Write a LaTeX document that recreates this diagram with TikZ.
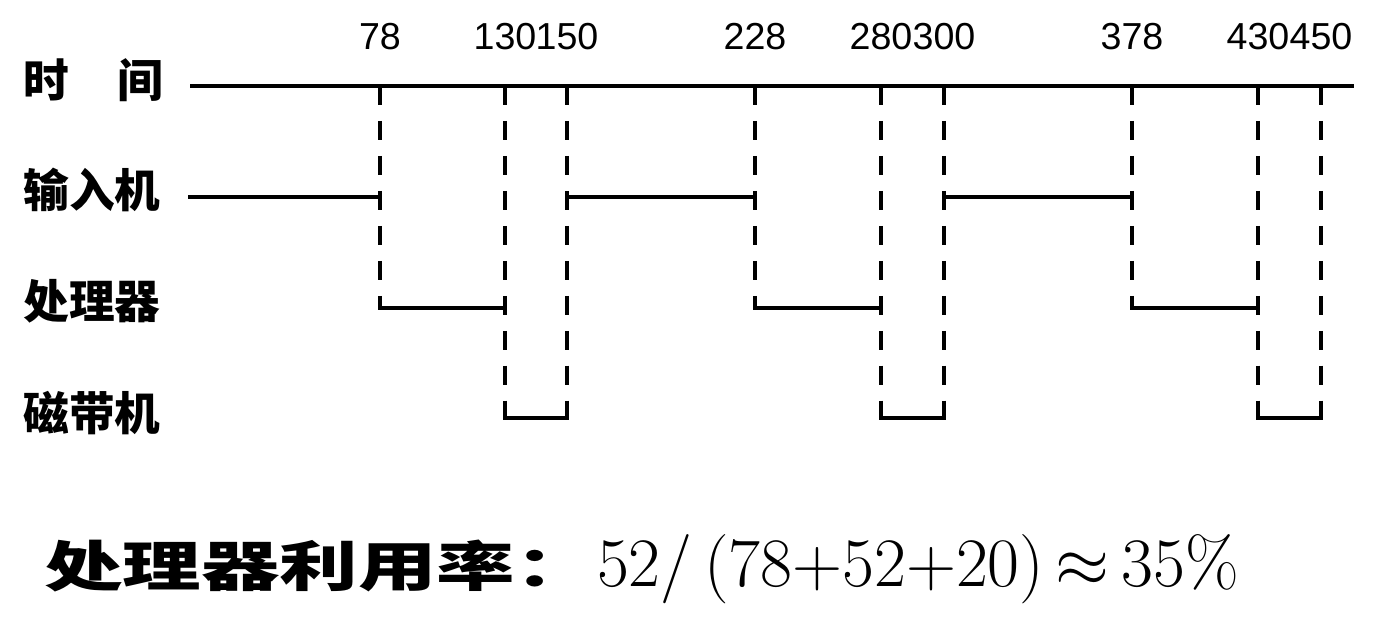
\RequirePackage{fix-cm}
\documentclass[tikz,border=0pt]{standalone}
\usepackage{fontspec}
\newfontfamily\cjk{Noto Sans CJK SC}
\newfontfamily\numfont{Liberation Sans}

\tikzset{
    rowlabel/.style={anchor=west, inner sep=0pt, font=\cjk\bfseries\fontsize{26pt}{26pt}\selectfont},
    ticklabel/.style={inner sep=0pt, font=\numfont\fontsize{21.4pt}{21.4pt}\selectfont},
    axisline/.style={line width=2.3pt},
    busyline/.style={line width=2.1pt, line cap=rect},
    dashline/.style={line width=2.7pt, dash pattern=on 10.8pt off 9.1pt}
}

\begin{document}
\begin{tikzpicture}[x=0.02cm, y=-0.02cm]

    % Fix the page size
    \useasboundingbox[fill=white] (0,0) rectangle (1389,633);

    % Define the rows
    \coordinate (top)   at (190, 37);    % Height of the tick labels
    \coordinate (time)  at (190, 86);    % Time axis
    \coordinate (input) at (190, 197);   % Input machine row
    \coordinate (cpu)   at (190, 308);   % Processor row
    \coordinate (tape)  at (190, 418);   % Tape machine row
    \coordinate (axisend) at (1354, 86); % Right end of the axis

    % Define the ticks on the time axis
    \foreach \t/\x in {78/380, 130/505, 150/567, 228/755, 280/881,
                       300/944, 378/1132, 430/1258, 450/1321}
        \coordinate (t\t) at (\x, 86);

    % Row labels
    \node[rowlabel] (ltime)  at (23, 80)  {时\hspace{1.07em}间};
    \node[rowlabel] (linput) at (23, 190) {输入机};
    \node[rowlabel] (lcpu)   at (23, 301) {处理器};
    \node[rowlabel] (ltape)  at (23, 413) {磁带机};

    % Tick labels
    \foreach \t in {78, 130, 150, 228, 280, 300, 378, 430, 450}
        \node[ticklabel] (n\t) at (t\t |- top) {\t};

    % Time axis
    \draw[axisline] (time) -- (axisend);

    % Dashed lines down to the processor row
    \foreach \t in {78, 228, 378}
        \draw[dashline] (t\t) -- (t\t |- cpu);

    % Dashed lines down to the tape row
    \foreach \t in {130, 150, 280, 300, 430, 450}
        \draw[dashline] (t\t) -- (t\t |- tape);

    % Input machine busy
    \draw[busyline] (input) -- (input -| t78);
    \draw[busyline] (input -| t150) -- (input -| t228);
    \draw[busyline] (input -| t300) -- (input -| t378);

    % Processor busy
    \draw[busyline] (cpu -| t78) -- (cpu -| t130);
    \draw[busyline] (cpu -| t228) -- (cpu -| t280);
    \draw[busyline] (cpu -| t378) -- (cpu -| t430);

    % Tape machine busy
    \draw[busyline] (tape -| t130) -- (tape -| t150);
    \draw[busyline] (tape -| t280) -- (tape -| t300);
    \draw[busyline] (tape -| t430) -- (tape -| t450);

    % Utilisation of the processor
    \node[anchor=base west, inner sep=0pt] (usage) at (44, 586)
        {\scalebox{1.45}[1]{\cjk\bfseries\fontsize{30.8pt}{30.8pt}\selectfont 处理器利用率：}%
         \fontsize{39.5pt}{39.5pt}\selectfont\hspace{0.05em}52/\,(78+52+20)\,$\approx$\,35\%};

\end{tikzpicture}
\end{document}
